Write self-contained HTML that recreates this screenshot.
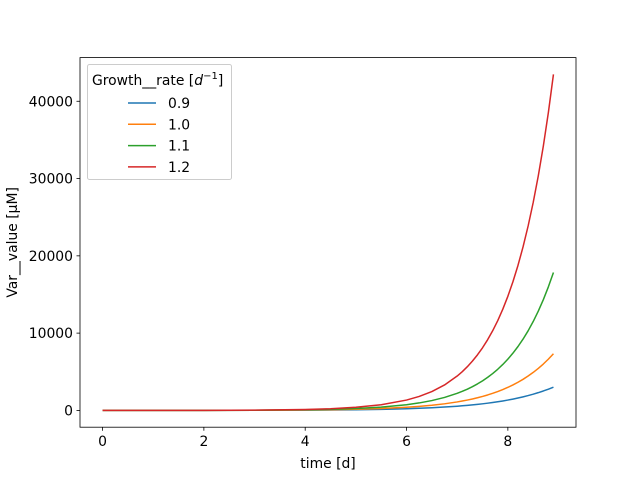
<!DOCTYPE html>
<html><head><meta charset="utf-8"><style>
body{margin:0;background:#fff}
svg{display:block;font-family:"DejaVu Sans","Liberation Sans",sans-serif}
</style></head><body>
<svg id="chart" width="640" height="480" viewBox="0 0 640 480">
<rect width="640" height="480" fill="#fff"/>
<g id="plot"></g>
</svg>
<script>
const times = [0,1,2,3,4,4.5,5,5.5,6,6.25,6.5,6.75,7,7.1,7.2,7.3,7.4,7.5,7.6,7.7,7.8,7.9,8,8.1,8.2,8.3,8.4,8.5,8.6,8.7,8.8,8.9];
const seriesLabels = ["0.9","1.0","1.1","1.2"];
const s09 = [1,2.46,6.05,14.9,36.6,57.4,90,141,221,277,347,435,545,596,652,713,780,854,934,1022,1118,1224,1339,1465,1603,1754,1919,2100,2298,2514,2751,3010];
const s10 = [1,2.72,7.39,20.1,54.6,90,148,245,403,518,665,854,1097,1212,1339,1480,1636,1808,1998,2208,2441,2697,2981,3294,3641,4024,4447,4915,5432,6003,6634,7332];
const s11 = [1,3.0,9.03,27.1,81.5,141,245,424,735,968,1274,1677,2208,2465,2751,3071,3428,3827,4272,4769,5324,5943,6634,7406,8268,9229,10301,11499,12836,14328,15994,17836];
const s12 = [1,3.32,11.0,36.6,121.5,221,403,735,1339,1808,2441,3294,4447,5014,5653,6374,7186,8103,9136,10301,11614,13095,14765,16647,18770,21162,23860,26903,30333,34200,38561,43477];
const colors = ["#1f77b4","#ff7f0e","#2ca02c","#d62728"];
const xTicks = [0,2,4,6,8];
const yTicks = [0,10000,20000,30000,40000];

const L=80,R=576,T=57.6,B=427.2,FS=13.9;
const series=[s09,s10,s11,s12];
const xmin0=Math.min(...times),xmax0=Math.max(...times);
const allY=series.flat();
const ymin0=Math.min(...allY),ymax0=Math.max(...allY);
const xm=(xmax0-xmin0)*0.05, ym=(ymax0-ymin0)*0.05;
const x0=xmin0-xm,x1=xmax0+xm,y0=ymin0-ym,y1=ymax0+ym;
const sx=v=>L+(v-x0)/(x1-x0)*(R-L);
const sy=v=>B-(v-y0)/(y1-y0)*(B-T);
const NS="http://www.w3.org/2000/svg";
const g=document.getElementById('plot');
function mk(tag,attrs,parent){const e=document.createElementNS(NS,tag);for(const k in attrs)e.setAttribute(k,attrs[k]);(parent||g).appendChild(e);return e;}

series.forEach((s,i)=>{
  const p=mk('polyline',{points:s.map((v,j)=>sx(times[j]).toFixed(2)+','+sy(v).toFixed(2)).join(' '),fill:'none',stroke:colors[i],'stroke-width':1.5,'stroke-linejoin':'round'});
  
  
});

const frame=mk('rect',{x:L,y:T,width:R-L,height:B-T,fill:'none',stroke:'#000','stroke-width':0.8});



xTicks.forEach(v=>{
  const x=sx(v);
  mk('line',{x1:x,x2:x,y1:B,y2:B+3.5,stroke:'#000','stroke-width':0.8});
  const t=mk('text',{x:x,y:B+19,'font-size':FS,'text-anchor':'middle',fill:'#000'});
  t.textContent=v;
  
  
});
yTicks.forEach(v=>{
  const y=sy(v);
  mk('line',{x1:L-3.5,x2:L,y1:y,y2:y,stroke:'#000','stroke-width':0.8});
  const t=mk('text',{x:L-7,y:y+5,'font-size':FS,'text-anchor':'end',fill:'#000'});
  t.textContent=v;
  
  
});

const xt=mk('text',{x:(L+R)/2,y:468,'font-size':FS,'text-anchor':'middle'});
xt.textContent='time [d]';


const yt=mk('text',{x:0,y:0,'font-size':FS,'text-anchor':'middle',transform:'translate(17,'+((T+B)/2)+') rotate(-90)'});
yt.textContent='Var__value [µM]';



const lg=mk('g',{});


mk('rect',{x:87.5,y:64.5,width:144,height:115,rx:2,fill:'#fff','fill-opacity':0.8,stroke:'#ccc'},lg);
const title=mk('text',{x:92,y:85,'font-size':FS},lg);
title.innerHTML='Growth__rate [<tspan font-style="italic">d</tspan><tspan dy="-6" font-size="10">−1</tspan><tspan dy="6">]</tspan>';


seriesLabels.forEach((lab,i)=>{
  const y=103+i*21.3;
  const e=mk('g',{},lg);
  
  
  mk('line',{x1:128,x2:156,y1:y,y2:y,stroke:colors[i],'stroke-width':1.5},e);
  const t=mk('text',{x:168,y:y+5,'font-size':FS},e);
  t.textContent=lab;
});
</script>
</body></html>
